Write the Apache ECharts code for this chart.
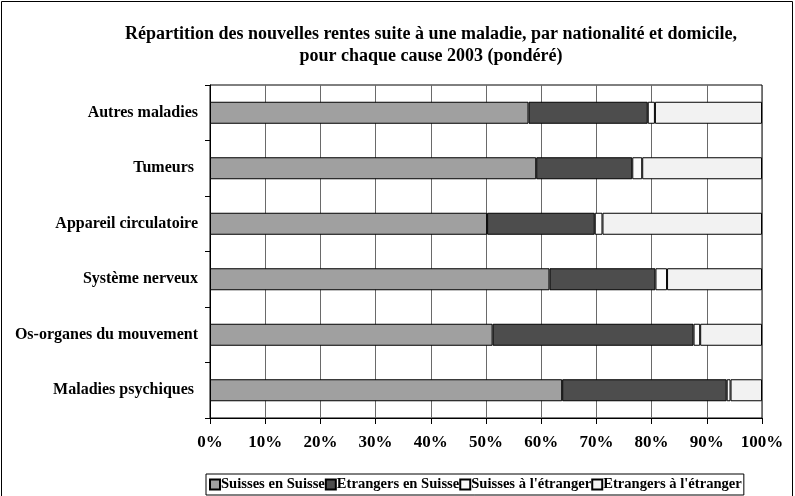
<!DOCTYPE html>
<html>
<head>
<meta charset="utf-8">
<title>Répartition des nouvelles rentes</title>
<script src="https://cdn.jsdelivr.net/npm/echarts@6/dist/echarts.min.js"></script>
<style>
  html, body { margin: 0; padding: 0; background: #fff; }
  #main { width: 795px; height: 496px; }
</style>
</head>
<body>
<div id="main"></div>
<script>
// categories, top to bottom
var causes = ['Autres maladies', 'Tumeurs ', 'Appareil circulatoire', 'Système nerveux',
              'Os-organes du mouvement', 'Maladies psychiques '];
// parts in %
var suissesEnSuisse    = [57.7, 59.1, 50.2, 61.5, 51.2, 63.8];
var etrangersEnSuisse  = [21.6, 17.4, 19.5, 19.2, 36.4, 29.8];
var suissesEtranger    = [1.3, 1.8, 1.4, 2.1, 1.2, 0.7];
var etrangersEtranger  = [19.4, 21.7, 28.9, 17.2, 11.2, 5.7];
var seriesNames = ['Suisses en Suisse', 'Etrangers en Suisse', "Suisses à l'étranger", "Etrangers à l'étranger"];
var colors = ['#a0a0a0', '#4d4d4d', '#fbfbfb', '#f2f2f2'];

var font = "'Liberation Serif', 'Times New Roman', serif";

var myChart = echarts.init(document.getElementById('main'));

function makeSeries(i, data) {
    return {
        name: seriesNames[i],
        type: 'bar',
        stack: 'total',
        barWidth: 22,
        data: data,
        itemStyle: { color: colors[i], borderColor: '#000', borderWidth: 1 }
    };
}

var option = {
    backgroundColor: '#fff',
    animation: false,
    title: {
        text: 'Répartition des nouvelles rentes suite à une maladie, par nationalité et domicile,\npour chaque cause 2003 (pondéré)',
        left: 426,
        textAlign: 'center',
        top: 18,
        textStyle: { fontFamily: font, fontWeight: 'bold', fontSize: 18, lineHeight: 22, color: '#000' }
    },
    graphic: [{
        type: 'rect',
        shape: { x: 1.5, y: 1.5, width: 791, height: 510 },
        style: { fill: 'none', stroke: '#000', lineWidth: 1 },
        silent: true
    }],
    legend: {
        left: 206,
        top: 474,
        itemWidth: 10,
        itemHeight: 10,
        itemGap: 0,
        padding: [3, 2, 3, 3],
        borderColor: '#000',
        borderWidth: 1,
        icon: 'rect',
        textStyle: { fontFamily: font, fontWeight: 'bold', fontSize: 14.6, color: '#000', padding: [0, 0, 0, -4] },
        data: seriesNames
    },
    grid: {
        left: 210,
        right: 33,
        top: 85,
        bottom: 78,
        show: true,
        borderColor: '#000',
        borderWidth: 1
    },
    xAxis: {
        type: 'value',
        min: 0,
        max: 100,
        interval: 10,
        axisLine: { show: true, lineStyle: { color: '#000' } },
        axisTick: { show: true, length: 6, lineStyle: { color: '#000' } },
        axisLabel: {
            formatter: '{value}%',
            margin: 16,
            fontFamily: font, fontWeight: 'bold', fontSize: 17, color: '#000'
        },
        splitLine: { show: true, lineStyle: { color: '#6a6a6a', width: 1 } }
    },
    yAxis: {
        type: 'category',
        inverse: true,
        data: causes,
        axisLine: { show: true, lineStyle: { color: '#000' } },
        axisTick: { show: true, length: 5, lineStyle: { color: '#000' } },
        axisLabel: {
            margin: 12,
            fontFamily: font, fontWeight: 'bold', fontSize: 16, color: '#000'
        }
    },
    series: [
        makeSeries(0, suissesEnSuisse),
        makeSeries(1, etrangersEnSuisse),
        makeSeries(2, suissesEtranger),
        makeSeries(3, etrangersEtranger)
    ]
};

myChart.setOption(option);
</script>
</body>
</html>
